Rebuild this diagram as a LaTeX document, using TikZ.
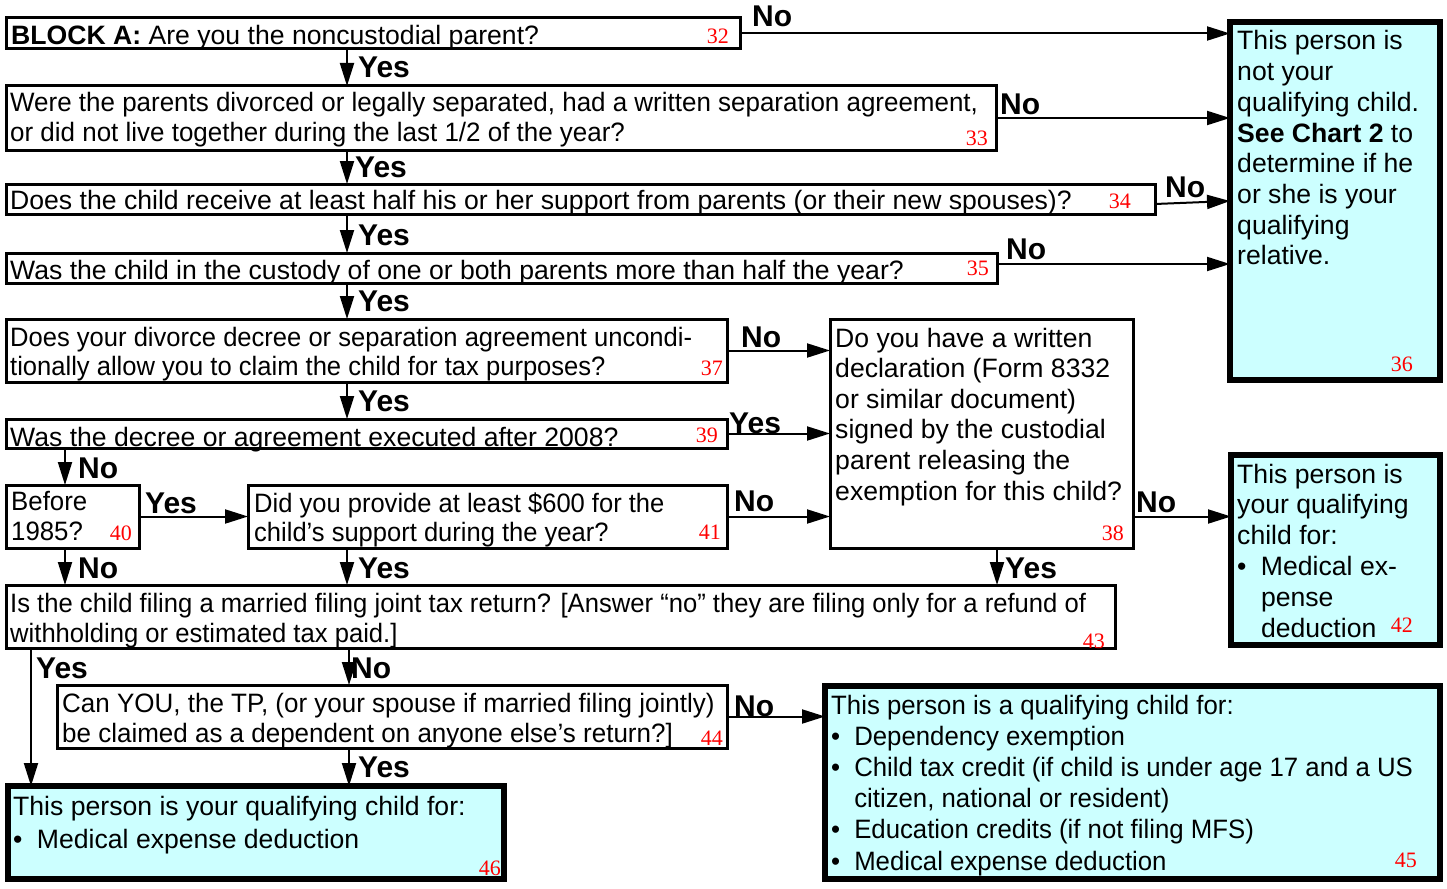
\documentclass[tikz,border=0pt]{standalone}
\usepackage{fontspec}
\usepackage{graphicx}
\setmainfont{Liberation Sans}
\newfontfamily\numfont{Liberation Serif}
\usetikzlibrary{arrows.meta,calc}
\definecolor{resfill}{HTML}{CCFFFF}
% #1 = horizontal scale, #2 = line spacing, #3 = lines
\newcommand{\bl}[3]{\scalebox{#1}[1]{\fontsize{26.6}{#2}\selectfont\begin{tabular}[t]{@{}l@{}}#3\end{tabular}}}
\newcommand{\bul}[3]{\scalebox{#1}[1]{\fontsize{26.6}{#2}\selectfont\begin{tabular}[t]{@{}l@{\hspace{14.5pt}}l@{}}#3\end{tabular}}}
\newcommand{\hd}[1]{\multicolumn{2}{@{}l@{}}{#1}}
\newcommand{\bu}{\makebox[9.3pt][c]{\textbullet}}
\tikzset{
  qbox/.style={draw, line width=3pt, fill=white, inner sep=0pt, outer sep=0pt, anchor=north west},
  rbox/.style={draw, line width=6pt, fill=resfill, inner sep=0pt, outer sep=0pt, anchor=north west},
  arr/.style={line width=2pt, -{Triangle[length=23pt,width=14pt]}},
  lab/.style={font=\fontsize{30}{30}\selectfont\bfseries, anchor=base west, inner sep=0pt},
  txt/.style={anchor=base west, inner sep=0pt},
  num/.style={font=\numfont\fontsize{22}{22}\selectfont, text=red, anchor=base east, inner sep=0pt}
}
\begin{document}
\begin{tikzpicture}[x=1pt,y=-1pt]
\useasboundingbox (0,0) rectangle (1447,888);
% boxes
\node[qbox, minimum width=734pt, minimum height=31pt] (q32) at (6,18) {};
\node[qbox, minimum width=990pt, minimum height=64pt] (q33) at (6,86) {};
\node[qbox, minimum width=1149pt, minimum height=30pt] (q34) at (6,184) {};
\node[qbox, minimum width=991pt, minimum height=30pt] (q35) at (6,253) {};
\node[qbox, minimum width=721pt, minimum height=63pt] (q37) at (6,319) {};
\node[qbox, minimum width=721pt, minimum height=29pt] (q39) at (6,419) {};
\node[qbox, minimum width=133pt, minimum height=63pt] (q40) at (6,485) {};
\node[qbox, minimum width=479pt, minimum height=63pt] (q41) at (248,485) {};
\node[qbox, minimum width=303pt, minimum height=229pt] (q38) at (830,319) {};
\node[qbox, minimum width=1109pt, minimum height=63pt] (q43) at (6,585) {};
\node[qbox, minimum width=670pt, minimum height=63pt] (q44) at (57,685) {};
\node[rbox, minimum width=210pt, minimum height=358pt] (r36) at (1230,22) {};
\node[rbox, minimum width=209pt, minimum height=190pt] (r42) at (1231,455) {};
\node[rbox, minimum width=615pt, minimum height=193pt] (r45) at (825,686) {};
\node[rbox, minimum width=496pt, minimum height=93pt] (r46) at (8,786) {};
% texts
\node[txt] (t32) at (11,45) {\bl{1}{30}{\textbf{BLOCK A:} Are you the noncustodial parent?}};
\node[txt] (t33) at (10,111) {\bl{0.976}{30}{Were the parents divorced or legally separated, had a written separation agreement,\\or did not live together during the last 1/2 of the year?}};
\node[txt] (t34) at (10,209) {\bl{1}{30}{Does the child receive at least half his or her support from parents (or their new spouses)?}};
\node[txt] (t35) at (10,279) {\bl{1}{30}{Was the child in the custody of one or both parents more than half the year?}};
\node[txt] (t37) at (10,346) {\bl{0.961}{29}{Does your divorce decree or separation agreement uncondi-\\tionally allow you to claim the child for tax purposes?}};
\node[txt] (t39) at (10,446) {\bl{1}{30}{Was the decree or agreement executed after 2008?}};
\node[txt] (t40) at (11,510) {\bl{0.97}{30}{Before\\1985?}};
\node[txt] (t41) at (254,512) {\bl{0.96}{29.5}{Did you provide at least \$600 for the\\child’s support during the year?}};
\node[txt] (t38) at (835,347) {\bl{1}{30.6}{Do you have a written\\declaration (Form 8332\\or similar document)\\signed by the custodial\\parent releasing the\\exemption for this child?}};
\node[txt] (t43) at (10,612) {\bl{0.963}{30}{Is the child filing a married filing joint tax return? [Answer “no” they are filing only for a refund of\\withholding or estimated tax paid.]}};
\node[txt] (t44) at (62,712) {\bl{0.977}{30}{Can YOU, the TP, (or your spouse if married filing jointly)\\be claimed as a dependent on anyone else’s return?]}};
\node[txt] (t36) at (1237,50) {\bl{1}{30.7}{This person is\\not your\\qualifying child.\\\textbf{See Chart 2} to\\determine if he\\or she is your\\qualifying\\relative.}};
\node[txt] (t42) at (1237,483) {\bul{1}{30.8}{\hd{This person is}\\\hd{your qualifying}\\\hd{child for:}\\\bu & Medical ex-\\ & pense\\ & deduction}};
\node[txt] (t45) at (831,714) {\bul{0.969}{31.2}{\hd{This person is a qualifying child for:}\\\bu & Dependency exemption\\\bu & Child tax credit (if child is under age 17 and a US\\ & citizen, national or resident)\\\bu & Education credits (if not filing MFS)\\\bu & Medical expense deduction}};
\node[txt] (t46) at (13,815) {\bul{1}{33}{\hd{This person is your qualifying child for:}\\\bu & Medical expense deduction}};
% numbers
\node[num] (n32) at (729,44) {32};
\node[num] (n33) at (988,146) {33};
\node[num] (n34) at (1131,208) {34};
\node[num] (n35) at (989,275) {35};
\node[num] (n36) at (1413,371) {36};
\node[num] (n37) at (723,375) {37};
\node[num] (n38) at (1124,540) {38};
\node[num] (n39) at (718,442) {39};
\node[num] (n40) at (132,540) {40};
\node[num] (n41) at (721,539) {41};
\node[num] (n42) at (1413,632) {42};
\node[num] (n43) at (1105,648) {43};
\node[num] (n44) at (723,745) {44};
\node[num] (n45) at (1417,867) {45};
\node[num] (n46) at (501,875) {46};
% helper coordinates
\coordinate (sp) at (347,0);
\coordinate (sp2) at (349,0);
\coordinate (lx) at (65,0);
\coordinate (rx) at (997,0);
\coordinate (yx) at (31,0);
\coordinate (c34) at ($(q34.east)+(0,5)$);
\coordinate (c35) at ($(q35.east)+(0,-4)$);
% connectors
\draw[arr] (q32.east) -- (q32.east -| r36.west);
\draw[arr] (q32.south -| sp) -- (q33.north -| sp);
\draw[arr] (q33.east) -- (q33.east -| r36.west);
\draw[arr] (q33.south -| sp) -- (q34.north -| sp);
\draw[arr] (c34) -- (r36.west);
\draw[arr] (q34.south -| sp) -- (q35.north -| sp);
\draw[arr] (c35) -- (c35 -| r36.west);
\draw[arr] (q35.south -| sp) -- (q37.north -| sp);
\draw[arr] (q37.east) -- (q37.east -| q38.west);
\draw[arr] (q37.south -| sp) -- (q39.north -| sp);
\draw[arr] (q39.east) -- (q39.east -| q38.west);
\draw[arr] (q39.south -| lx) -- (q40.north -| lx);
\draw[arr] (q40.east) -- (q41.west);
\draw[arr] (q41.east) -- (q41.east -| q38.west);
\draw[arr] (q41.east -| q38.east) -- (q41.east -| r42.west);
\draw[arr] (q40.south -| lx) -- (q43.north -| lx);
\draw[arr] (q41.south -| sp) -- (q43.north -| sp);
\draw[arr] (q38.south -| rx) -- (q43.north -| rx);
\draw[arr] (q43.south -| yx) -- (r46.north -| yx);
\draw[arr] (q43.south -| sp2) -- (q44.north -| sp2);
\draw[arr] (q44.east) -- (q44.east -| r45.west);
\draw[arr] (q44.south -| sp2) -- (r46.north -| sp2);
% labels
\node[lab] (l1) at (752,27) {No};
\node[lab] (l2) at (358,78) {Yes};
\node[lab] (l3) at (1000,114) {No};
\node[lab] (l4) at (355,177) {Yes};
\node[lab] (l5) at (1165,197) {No};
\node[lab] (l6) at (358,245) {Yes};
\node[lab] (l7) at (1006,259) {No};
\node[lab] (l8) at (358,311) {Yes};
\node[lab] (l9) at (741,347) {No};
\node[lab] (l10) at (358,411) {Yes};
\node[lab] (l11) at (729,433) {Yes};
\node[lab] (l12) at (78,478) {No};
\node[lab] (l13) at (145,513) {Yes};
\node[lab] (l14) at (734,511) {No};
\node[lab] (l15) at (1136,512) {No};
\node[lab] (l16) at (78,578) {No};
\node[lab] (l17) at (358,578) {Yes};
\node[lab] (l18) at (1005,578) {Yes};
\node[lab] (l19) at (36,678) {Yes};
\node[lab] (l20) at (351,678) {No};
\node[lab] (l21) at (734,716) {No};
\node[lab] (l22) at (358,777) {Yes};
\end{tikzpicture}
\end{document}
